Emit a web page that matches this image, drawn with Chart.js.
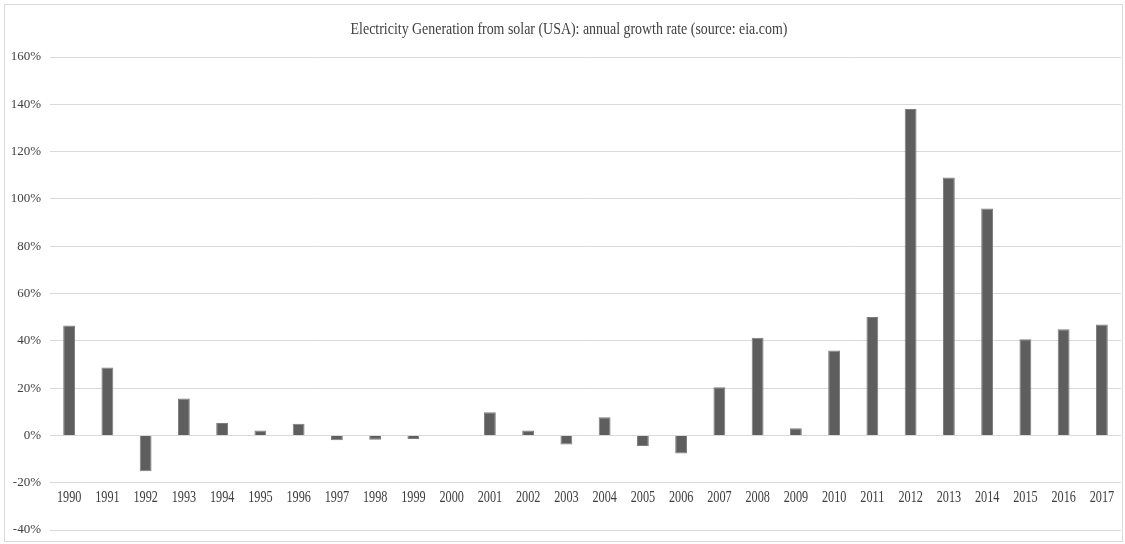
<!DOCTYPE html>
<html>
<head>
<meta charset="utf-8">
<style>
  html, body { margin: 0; padding: 0; background: #ffffff; }
  #wrap { width: 1125px; height: 544px; }
</style>
<script src="https://cdn.jsdelivr.net/npm/chart.js@4/dist/chart.umd.min.js"></script>
</head>
<body>
<div id="wrap"><canvas id="chart" width="1125" height="544"></canvas></div>
<script>
// Annual growth rate of US solar electricity generation, in percent
const chartTitle = 'Electricity Generation from solar (USA): annual growth rate (source: eia.com)';
const years = ['1990', '1991', '1992', '1993', '1994', '1995', '1996', '1997', '1998', '1999',
  '2000', '2001', '2002', '2003', '2004', '2005', '2006', '2007', '2008', '2009',
  '2010', '2011', '2012', '2013', '2014', '2015', '2016', '2017'];
const growthPct = [46.5, 28.7, -15.2, 15.6, 5.2, 2.1, 4.9, -2.0, -1.8, -1.5,
  0, 9.8, 2.1, -3.8, 7.7, -4.5, -7.7, 20.4, 41.3, 3.0,
  35.9, 50.1, 138.0, 109.0, 95.9, 40.7, 44.9, 46.9];
const yMin = -40;
const yMax = 160;
const yStep = 20;
const yearLabelLine = -20;   // year labels sit just under this gridline

const serif = "'Liberation Serif', 'Times New Roman', serif";
const textColor = '#404040';

// draws text squeezed horizontally around (cx, baseline)
function condensedText(ctx, text, cx, baseline, sx) {
  ctx.save();
  ctx.translate(cx, baseline);
  ctx.scale(sx, 1);
  ctx.fillText(text, 0, 0);
  ctx.restore();
}

const framePlugin = {
  id: 'frame',
  beforeDraw(chart) {
    const ctx = chart.ctx;
    ctx.save();
    ctx.fillStyle = '#ffffff';
    ctx.fillRect(0, 0, chart.width, chart.height);
    ctx.strokeStyle = '#d9d9d9';
    ctx.lineWidth = 1;
    ctx.strokeRect(4.5, 4.5, chart.width - 7, chart.height - 7);
    ctx.restore();
  }
};

const labelsPlugin = {
  id: 'condensedLabels',
  afterDraw(chart) {
    const { ctx, scales: { x, y } } = chart;
    ctx.save();
    ctx.fillStyle = textColor;
    ctx.textAlign = 'center';
    ctx.textBaseline = 'alphabetic';

    // title
    ctx.font = '16px ' + serif;
    condensedText(ctx, chartTitle, 569, 34, 0.87);

    // category labels
    ctx.font = '17px ' + serif;
    const base = y.getPixelForValue(yearLabelLine) + 19;
    years.forEach((yr, i) => {
      condensedText(ctx, yr, x.getPixelForValue(i), base, 0.72);
    });
    ctx.restore();
  }
};

new Chart(document.getElementById('chart'), {
  type: 'bar',
  data: {
    labels: years,
    datasets: [{
      data: growthPct,
      backgroundColor: '#5e5e5e',
      borderColor: '#7c7c7c',
      borderWidth: 1,
      barPercentage: 0.31,
      categoryPercentage: 1.0
    }]
  },
  options: {
    responsive: false,
    animation: false,
    devicePixelRatio: 1,
    layout: { padding: { top: 57, bottom: 14, left: 0, right: 4 } },
    plugins: {
      legend: { display: false },
      title: { display: false },
      tooltip: { enabled: false }
    },
    scales: {
      x: {
        display: false,
        offset: true
      },
      y: {
        min: yMin,
        max: yMax,
        border: { display: false },
        grid: { color: '#d9d9d9', lineWidth: 1, drawTicks: false },
        ticks: {
          stepSize: yStep,
          padding: 9,
          color: textColor,
          font: { family: serif, size: 13 },
          callback: v => v + '%'
        },
        afterFit(scale) {
          scale.width = 50;
          scale.paddingTop = 0;
          scale.paddingBottom = 0;
        }
      }
    }
  },
  plugins: [framePlugin, labelsPlugin]
});
</script>
</body>
</html>
